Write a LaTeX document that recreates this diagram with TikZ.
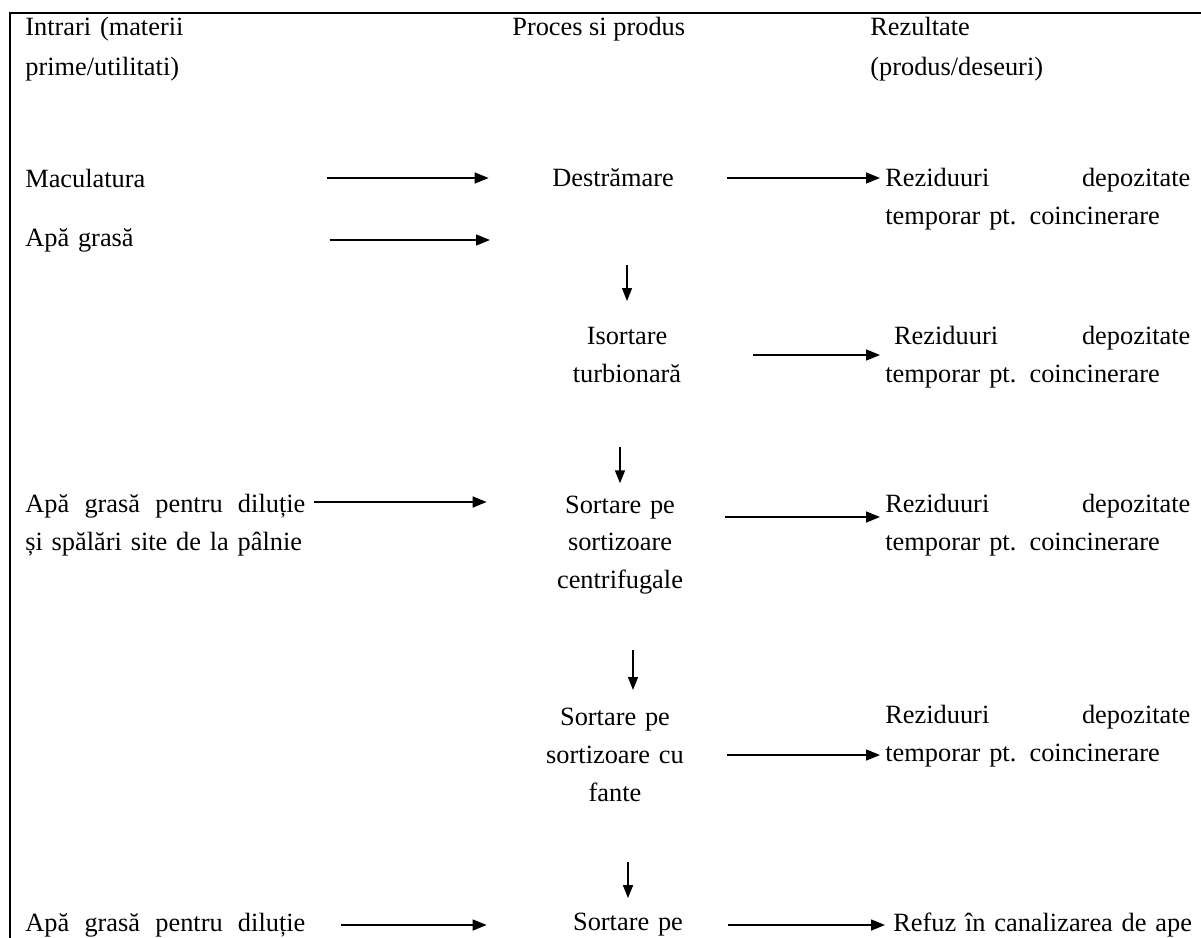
\documentclass[tikz,border=0pt]{standalone}
\usepackage{fontspec}
\setmainfont{Liberation Serif}
\usetikzlibrary{arrows.meta}

\begin{document}
\begin{tikzpicture}[x=0.2mm,y=-0.2mm,
    txt/.style={inner sep=0pt,font=\fontsize{15}{21.5}\selectfont},
    headtxt/.style={txt,font=\fontsize{15}{23}\selectfont},
    inbox/.style={txt,anchor=west,text width=56mm,align=left},
    procbox/.style={txt,text width=28mm,align=center},
    outbox/.style={txt,anchor=west,text width=61mm,align=left},
    arr/.style={line width=0.85pt,-{Triangle[length=2.8mm,width=2.2mm]}},
    darr/.style={line width=0.85pt,-{Triangle[length=2.6mm,width=2mm]}}]
\useasboundingbox (0,0) rectangle (1201,938);
\draw[line width=1.4pt] (1201,13) -- (10,13) -- (10,938);

% column heads
\node[inbox,headtxt] (hin) at (25,49) {Intrari (materii\\prime/utilitati)};
\node[headtxt,anchor=west] (hproc) at (512,29) {Proces si produs};
\node[outbox,headtxt] (hout) at (870,49) {Rezultate\\(produs/deseuri)};

% inputs
\node[inbox] (in1) at (25,178) {Maculatura};
\node[inbox] (in2) at (25,240) {Apă grasă};
\coordinate (c2) at (490,240);
\node[inbox] (in3) at (25,525) {Apă\hfill grasă\hfill pentru\hfill diluție\\și spălări site de la pâlnie};
\node[inbox] (in5) at (25,925) {Apă\hfill grasă\hfill pentru\hfill diluție};

% process
\node[procbox] (p1) at (613,178) {Destrămare};
\node[procbox] (p2) at (627,355) {Isortare\\turbionară};
\node[procbox] (p3) at (620,545) {Sortare pe\\sortizoare\\centrifugale};
\node[procbox] (p4) at (615,755) {Sortare pe\\sortizoare cu\\fante};
\node[procbox] (p5) at (628,925) {Sortare pe};

% results
\node[outbox] (r1) at (885,199) {Reziduuri\hfill depozitate\\temporar pt. coincinerare};
\node[outbox] (r2) at (885,357) {\ Reziduuri\hfill depozitate\\temporar pt. coincinerare};
\node[outbox] (r3) at (885,525) {Reziduuri\hfill depozitate\\temporar pt. coincinerare};
\node[outbox] (r4) at (885,736) {Reziduuri\hfill depozitate\\temporar pt. coincinerare};
\node[outbox] (r5) at (893,925) {Refuz în canalizarea de ape};

% inputs to process
\draw[arr,shorten <=4.2mm,shorten >=10.8mm] (in1.east) -- (in1.east -| p1.west);
\draw[arr,shorten <=4.8mm] (in2.east) -- (c2);
\draw[arr,shorten <=1.6mm,shorten >=12.6mm] ([yshift=4.6mm]in3.east) -- ([yshift=4.6mm]in3.east -| p3.west);
\draw[arr,shorten <=7mm,shorten >=14.2mm] (in5.east) -- (in5.east -| p5.west);

% process chain
\draw[darr,shorten <=15.6mm,shorten >=5.2mm] (p2.north |- p1.south) -- (p2.north);
\draw[darr,shorten <=12.8mm,shorten >=2.4mm] (p3.north |- p2.south) -- (p3.north);
\draw[darr,shorten <=11mm,shorten >=3.6mm] ([xshift=3.6mm]p4.north |- p3.south) -- ([xshift=3.6mm]p4.north);
\draw[darr,shorten <=12mm,shorten >=3mm] (p5.north |- p4.south) -- (p5.north);

% process to results
\draw[arr,shorten <=8.8mm,shorten >=1mm] (p1.east) -- (p1.east -| r1.west);
\draw[arr,shorten <=11.2mm,shorten >=1mm] (p2.east) -- (p2.east -| r2.west);
\draw[arr,shorten <=7mm,shorten >=1mm] ([yshift=5.6mm]p3.east) -- ([yshift=5.6mm]p3.east -| r3.west);
\draw[arr,shorten <=8.4mm,shorten >=1mm] (p4.east) -- (p4.east -| r4.west);
\draw[arr,shorten <=6mm,shorten >=1.6mm] (p5.east) -- (p5.east -| r5.west);
\end{tikzpicture}
\end{document}
